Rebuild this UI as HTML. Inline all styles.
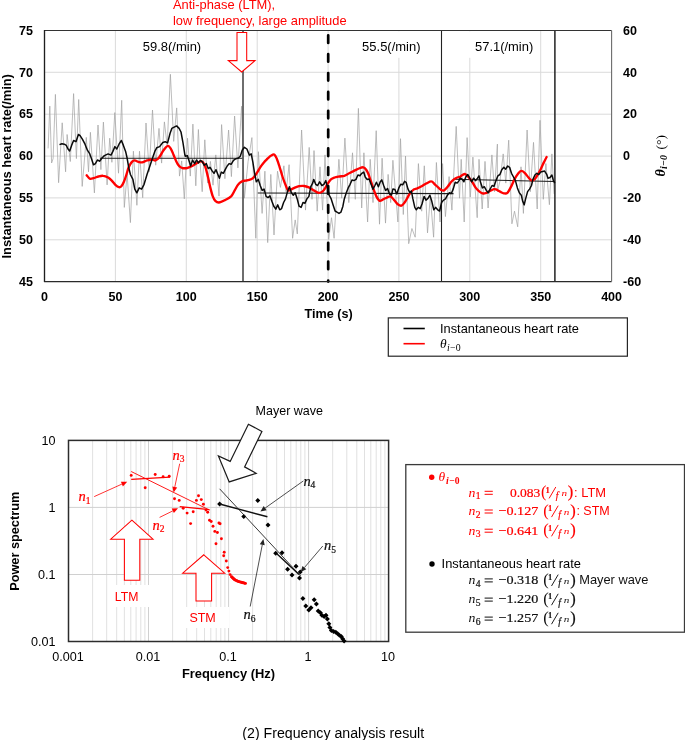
<!DOCTYPE html>
<html><head><meta charset="utf-8"><title>Frequency analysis result</title>
<style>
html,body{margin:0;padding:0;background:#fff;}
body{width:685px;height:740px;overflow:hidden;font-family:"Liberation Sans",sans-serif;}
svg{display:block;will-change:transform;}
text{font-family:"Liberation Sans",sans-serif;}
.b{font-weight:bold;}
.m{font-family:"Liberation Serif",serif;font-style:italic;}
.s{font-family:"Liberation Serif",serif;}
</style></head><body>
<svg width="685" height="740" viewBox="0 0 685 740">
<rect width="685" height="740" fill="#fff"/>

<g id="top">
<path d="M115.4,30.5 V281.6 M186.3,30.5 V281.6 M257.2,30.5 V281.6 M328.1,30.5 V281.6 M398.9,30.5 V281.6 M469.8,30.5 V281.6 M540.7,30.5 V281.6 M44.5,72.3 H611.6 M44.5,114.2 H611.6 M44.5,156.1 H611.6 M44.5,197.9 H611.6 M44.5,239.8 H611.6" stroke="#d8d8d8" stroke-width="0.95" fill="none"/>
<rect x="357" y="31.3" width="70" height="26.5" fill="#fff"/><rect x="466" y="31.3" width="71" height="26.5" fill="#fff"/>
<path d="M48.1,148.4 L49.8,106.1 L51.6,163.0 L53.1,158.6 L55.4,94.4 L58.6,182.7 L62.2,122.8 L65.6,171.8 L67.1,134.5 L70.3,161.5 L73.6,93.6 L76.4,158.6 L78.7,99.5 L82.2,186.4 L86.3,137.4 L88.5,171.8 L90.4,132.3 L94.4,192.9 L98.0,125.0 L100.9,169.6 L103.4,122.1 L107.1,184.9 L109.7,138.2 L111.9,162.3 L114.8,112.6 L118.5,173.2 L121.7,100.3 L124.3,207.4 L127.1,173.9 L130.4,222.6 L133.4,151.2 L136.9,205.3 L139.5,151.2 L142.7,197.7 L146.0,123.0 L149.2,171.7 L152.5,110.0 L155.7,165.2 L159.0,128.4 L161.6,163.1 L164.4,121.9 L167.2,145.8 L170.4,74.3 L173.7,141.4 L176.7,107.9 L179.5,176.1 L181.7,160.9 L184.3,198.8 L187.5,138.2 L190.3,176.1 L192.9,124.1 L195.8,185.8 L198.4,129.5 L200.0,161.4 L202.2,191.7 L204.8,139.8 L207.6,183.1 L210.4,161.4 L213.0,185.2 L215.8,154.9 L219.0,196.1 L221.6,124.6 L224.9,178.7 L228.6,130.0 L231.4,176.6 L234.6,116.0 L237.9,167.9 L241.6,106.2 L244.4,198.2 L248.1,161.4 L251.9,137.6 L255.8,238.3 L258.4,151.7 L262.1,213.4 L264.9,171.2 L267.7,242.6 L270.8,174.4 L274.0,235.0 L277.5,171.2 L280.4,187.4 L283.9,165.8 L286.1,191.7 L289.1,164.7 L292.6,238.3 L295.2,219.9 L297.3,233.9 L301.6,130.0 L305.5,210.1 L309.2,147.4 L312.0,199.3 L314.0,150.6 L317.2,211.2 L320.0,166.8 L322.6,210.1 L325.0,154.9 L328.7,239.4 L331.5,217.7 L334.1,238.3 L338.9,159.3 L341.7,198.2 L344.9,138.1 L348.8,202.6 L352.5,152.8 L355.3,199.3 L358.4,108.4 L361.7,208.0 L363.9,152.8 L367.6,222.0 L370.2,159.3 L373.0,202.6 L376.2,130.7 L379.5,224.2 L382.1,158.2 L385.5,223.1 L388.1,174.4 L390.7,202.6 L392.9,160.3 L397.9,222.0 L400.5,138.7 L403.3,214.5 L405.5,156.0 L408.7,243.7 L411.9,228.5 L415.2,237.2 L418.4,163.6 L421.7,211.2 L424.3,165.8 L427.5,232.9 L430.3,196.1 L433.6,237.2 L436.4,162.5 L440.0,222.0 L442.6,163.6 L445.4,216.6 L449.1,176.6 L451.9,210.1 L456.2,126.4 L459.5,198.2 L461.2,159.3 L464.2,222.0 L467.1,137.6 L470.3,197.1 L472.9,157.1 L477.2,217.7 L479.0,159.3 L482.2,209.0 L485.0,161.4 L488.1,208.0 L491.9,154.9 L494.5,191.7 L497.4,144.1 L497.4,191.7 L500.0,180.9 L503.2,153.9 L505.8,183.1 L508.7,140.2 L511.9,223.8 L514.5,211.2 L517.7,226.8 L521.0,166.8 L523.4,213.4 L527.1,130.0 L530.3,191.7 L533.5,142.4 L537.2,209.0 L540.0,120.3 L543.3,199.3 L545.9,163.6 L549.4,204.7 L551.9,153.9 L554.1,193.9" stroke="#a3a3a3" stroke-width="0.72" fill="none" stroke-linejoin="miter" stroke-miterlimit="10"/>
<path d="M100,158.2 H242.5 M257.8,192.9 L453.5,193.6 M453.5,179.2 L555,181.6" stroke="#1c1c1c" stroke-width="1.05" fill="none"/>
<path d="M243.0,30.5 V281.6" stroke="#4a4a4a" stroke-width="1.6"/>
<path d="M441.5,30.5 V281.6" stroke="#222" stroke-width="1.1"/>
<path d="M554.9,30.5 V281.6" stroke="#222" stroke-width="1.5"/>
<path d="M86.7,175.3 C87.2,175.8 88.7,178.2 89.8,178.7 C91.0,179.2 92.1,178.6 93.5,178.2 C94.9,177.8 96.7,176.9 98.4,176.5 C100.0,176.1 101.6,175.6 103.2,175.8 C104.8,175.9 106.7,176.7 108.1,177.5 C109.5,178.3 110.5,179.4 111.7,180.6 C112.9,181.8 114.2,183.7 115.4,184.8 C116.6,185.9 118.0,186.9 119.0,187.2 C120.0,187.4 120.6,187.1 121.4,186.2 C122.3,185.3 123.1,183.7 123.9,181.8 C124.7,180.0 125.5,177.5 126.3,175.0 C127.1,172.6 127.8,169.4 128.7,167.3 C129.7,165.1 130.9,163.0 131.9,161.9 C132.9,160.8 133.7,160.4 134.8,160.4 C135.9,160.4 137.3,161.6 138.5,161.9 C139.7,162.2 140.7,162.6 142.1,162.4 C143.5,162.1 145.4,160.9 147.0,160.4 C148.6,160.0 150.4,159.5 151.8,159.5 C153.3,159.5 154.3,160.8 155.5,160.4 C156.7,160.1 157.9,159.0 159.1,157.5 C160.4,156.0 161.6,153.2 162.8,151.4 C163.9,149.7 165.1,148.2 165.9,147.3 C166.8,146.4 167.4,145.7 168.1,145.9 C168.9,146.0 169.7,147.0 170.6,148.3 C171.4,149.6 172.3,151.7 173.2,153.9 C174.2,156.0 175.2,159.1 176.2,161.2 C177.1,163.2 178.1,164.9 179.1,166.0 C180.1,167.2 181.1,167.6 182.2,168.0 C183.4,168.3 185.0,168.2 185.9,168.2 C186.7,168.2 186.2,168.3 187.3,168.0 C188.3,167.6 190.5,166.8 192.2,166.0 C193.8,165.2 195.6,163.9 197.0,163.1 C198.4,162.3 199.7,161.5 200.7,161.4 C201.7,161.3 202.3,161.4 203.1,162.4 C203.9,163.4 204.7,164.8 205.5,167.3 C206.3,169.7 207.1,173.5 208.0,177.0 C208.8,180.4 209.6,184.7 210.4,187.9 C211.2,191.2 212.0,194.3 212.8,196.4 C213.6,198.6 214.2,199.8 215.3,200.8 C216.3,201.8 217.3,202.6 218.9,202.5 C220.5,202.4 223.0,201.1 225.0,200.1 C227.0,199.1 229.4,198.0 231.1,196.4 C232.7,194.8 233.5,192.4 234.7,190.4 C235.9,188.3 237.1,185.8 238.4,184.3 C239.6,182.8 240.8,182.0 242.0,181.4 C243.2,180.7 244.4,180.9 245.6,180.6 C246.9,180.4 248.1,180.3 249.3,179.9 C250.5,179.5 251.7,179.3 252.9,178.2 C254.2,177.1 255.4,175.2 256.6,173.3 C257.8,171.5 259.0,169.1 260.2,167.3 C261.4,165.4 262.7,163.8 263.9,162.4 C265.1,161.0 266.3,159.9 267.5,158.7 C268.7,157.6 270.0,156.3 271.2,155.6 C272.3,154.9 273.4,154.1 274.3,154.6 C275.3,155.1 275.9,156.6 276.8,158.7 C277.7,160.9 278.7,164.2 279.7,167.3 C280.7,170.3 281.6,173.9 282.6,177.0 C283.6,180.0 284.8,183.3 285.8,185.5 C286.7,187.7 287.2,189.7 288.2,190.4 C289.2,191.0 290.6,189.6 291.8,189.1 C293.1,188.6 294.3,187.9 295.5,187.4 C296.7,186.9 297.7,186.5 299.1,186.2 C300.6,186.0 302.4,185.8 304.0,186.0 C305.6,186.2 307.2,186.7 308.9,187.4 C310.5,188.2 312.1,189.5 313.7,190.4 C315.3,191.2 317.1,192.6 318.6,192.8 C320.0,193.0 321.4,192.3 322.4,191.6 C323.5,190.9 324.1,189.9 324.9,188.6 C325.7,187.4 326.3,185.8 327.3,184.3 C328.3,182.7 329.7,180.5 330.9,179.4 C332.2,178.3 333.2,178.0 334.6,177.5 C336.0,177.0 337.8,176.8 339.5,176.5 C341.1,176.2 342.7,176.3 344.3,175.8 C345.9,175.2 347.6,174.1 349.2,173.3 C350.8,172.5 352.4,171.7 354.0,170.9 C355.7,170.1 357.4,169.1 358.9,168.5 C360.4,167.9 362.1,167.1 363.3,167.3 C364.5,167.5 365.3,168.5 366.2,169.7 C367.1,170.9 367.8,172.5 368.6,174.5 C369.4,176.6 370.2,179.4 371.1,181.8 C371.9,184.3 372.6,186.7 373.5,189.1 C374.4,191.6 375.4,194.5 376.4,196.4 C377.4,198.4 378.4,200.3 379.6,200.8 C380.7,201.3 382.0,199.9 383.2,199.3 C384.4,198.8 385.6,198.1 386.9,197.6 C388.1,197.2 389.3,196.0 390.5,196.4 C391.7,196.8 392.9,198.8 394.2,200.1 C395.4,201.4 396.6,203.3 397.8,204.2 C399.0,205.1 400.3,206.0 401.4,205.7 C402.6,205.4 403.6,203.8 404.6,202.5 C405.6,201.2 406.6,199.3 407.5,197.6 C408.5,196.0 409.4,194.1 410.4,192.8 C411.5,191.4 412.5,190.4 413.6,189.6 C414.7,188.9 415.8,189.0 417.3,188.4 C418.7,187.8 420.5,186.9 422.1,186.0 C423.7,185.1 425.4,183.8 427.0,183.1 C428.5,182.3 430.1,181.2 431.4,181.4 C432.6,181.5 433.2,182.8 434.3,183.8 C435.4,184.8 436.8,186.2 437.9,187.2 C439.1,188.2 440.1,189.3 441.1,189.9 C442.1,190.4 442.9,190.9 444.0,190.4 C445.1,189.8 446.4,188.1 447.6,186.7 C448.9,185.3 450.1,183.2 451.3,181.8 C452.5,180.5 453.7,179.5 454.9,178.7 C456.2,177.9 457.7,177.3 458.6,177.0 C459.4,176.7 459.4,177.3 460.0,177.0 C460.6,176.7 461.5,175.5 462.4,175.0 C463.3,174.5 464.3,173.7 465.3,174.1 C466.4,174.4 467.4,175.7 468.5,177.0 C469.6,178.3 470.9,180.0 472.2,181.8 C473.4,183.7 474.6,186.3 475.8,187.9 C477.0,189.5 478.2,190.6 479.5,191.6 C480.7,192.5 481.9,193.3 483.1,193.5 C484.3,193.7 485.5,193.2 486.7,192.8 C488.0,192.3 489.2,191.4 490.4,190.8 C491.6,190.2 493.0,189.3 494.0,189.1 C495.1,188.9 495.5,189.2 496.5,189.6 C497.5,190.0 498.9,191.0 500.1,191.6 C501.3,192.2 502.5,193.1 503.8,193.3 C505.0,193.5 506.2,193.9 507.4,192.8 C508.6,191.7 509.8,189.0 511.1,186.7 C512.3,184.4 513.5,181.2 514.7,178.9 C515.9,176.7 517.3,174.7 518.4,173.3 C519.4,172.0 520.3,171.0 521.3,170.9 C522.3,170.8 523.3,171.6 524.4,172.6 C525.6,173.6 526.9,175.6 528.1,177.0 C529.3,178.3 530.6,180.3 531.7,180.6 C532.9,180.9 533.9,179.9 534.9,178.9 C535.9,177.9 536.8,176.2 537.8,174.5 C538.8,172.9 539.7,171.2 540.7,169.2 C541.7,167.2 542.9,164.4 543.9,162.4 C544.9,160.4 546.1,157.9 546.6,157.0" stroke="#ff0000" stroke-width="2.35" fill="none" stroke-linecap="round" stroke-linejoin="round"/>
<path d="M59.5,144.6 L61.9,143.7 L64.3,144.2 L66.3,145.4 L68.0,149.0 L69.7,151.0 L71.6,145.4 L73.6,140.5 L76.0,141.7 L78.4,134.4 L80.1,135.6 L82.5,139.3 L85.0,144.2 L87.4,150.2 L89.8,153.9 L91.5,158.7 L93.5,164.8 L95.4,163.6 L97.4,160.0 L99.6,161.2 L102.0,158.0 L104.4,155.6 L108.1,153.9 L111.0,155.1 L112.9,151.4 L114.9,146.6 L116.8,149.0 L119.0,144.2 L121.4,140.5 L123.4,145.4 L125.6,151.4 L127.0,157.5 L128.7,167.3 L130.4,174.5 L132.9,179.4 L134.8,189.1 L136.8,192.8 L139.2,187.9 L141.6,189.1 L144.1,184.3 L147.0,174.5 L149.9,166.0 L152.3,158.7 L154.8,151.4 L156.7,147.8 L159.6,146.6 L162.8,142.5 L165.2,141.7 L167.6,142.9 L170.1,133.2 L171.8,128.4 L174.2,127.1 L176.6,125.9 L179.1,128.4 L181.0,132.0 L183.0,142.9 L184.9,155.1 L185.3,156.3 L187.3,155.6 L189.2,161.2 L190.7,166.0 L192.6,160.0 L194.6,163.6 L196.5,160.0 L198.5,162.9 L200.4,160.4 L202.4,161.9 L204.3,165.3 L206.3,163.6 L208.2,168.5 L210.1,167.3 L212.1,170.9 L214.0,173.3 L216.0,169.7 L217.9,174.5 L219.4,178.2 L221.3,172.1 L223.3,173.3 L225.2,169.7 L227.2,166.0 L229.1,163.6 L231.1,164.3 L233.5,160.4 L235.9,158.7 L238.4,158.0 L240.3,156.3 L242.2,150.2 L244.4,147.3 L246.9,149.0 L249.3,155.1 L251.2,153.9 L252.9,162.4 L254.4,172.1 L256.3,181.8 L258.3,179.4 L260.2,185.5 L262.2,190.4 L264.1,189.1 L266.1,196.4 L268.0,197.6 L270.0,195.9 L271.9,201.3 L273.8,206.2 L275.8,209.1 L277.7,204.9 L279.7,209.8 L281.6,208.6 L283.6,202.5 L285.5,198.9 L287.5,191.6 L289.4,186.7 L291.4,192.8 L293.3,195.2 L295.2,192.8 L297.2,198.9 L299.1,206.2 L301.1,207.4 L303.0,202.5 L305.0,203.2 L306.9,198.9 L308.9,196.4 L310.8,186.7 L312.7,183.1 L313.7,179.4 L315.7,184.3 L317.6,185.5 L319.6,181.8 L321.9,185.5 L323.9,184.3 L325.8,180.6 L327.3,186.7 L329.2,195.2 L331.2,198.9 L333.1,204.9 L335.1,211.0 L337.0,212.2 L339.0,213.4 L340.9,212.2 L342.9,206.2 L344.3,198.9 L346.3,192.8 L348.2,187.9 L350.1,184.3 L352.1,179.9 L354.0,180.6 L356.0,179.4 L357.9,175.0 L359.9,175.8 L361.8,173.3 L363.8,172.1 L365.2,177.0 L367.2,179.4 L369.1,178.9 L371.1,184.3 L373.0,189.1 L374.9,185.5 L376.4,182.3 L378.4,186.7 L380.3,181.8 L381.8,179.9 L383.7,185.5 L385.6,190.4 L387.6,188.6 L389.5,194.0 L391.5,195.2 L392.9,189.1 L394.9,189.6 L396.8,194.0 L398.8,187.9 L400.7,184.3 L402.7,184.8 L404.6,181.4 L406.1,182.3 L408.0,189.1 L410.0,192.8 L411.4,191.1 L412.9,198.9 L414.8,207.4 L416.3,209.8 L418.2,207.4 L420.2,208.6 L422.1,203.7 L424.1,196.4 L426.0,200.1 L428.0,198.4 L429.9,195.2 L431.8,201.3 L433.8,209.8 L435.7,207.4 L437.7,209.8 L439.6,211.0 L441.6,202.5 L443.5,200.1 L445.5,198.9 L447.4,195.2 L449.3,192.8 L451.3,193.5 L453.2,189.1 L455.2,182.3 L457.1,183.1 L459.1,180.6 L460.0,178.2 L461.9,178.9 L463.9,181.8 L465.8,177.0 L467.8,174.5 L469.7,178.2 L471.7,181.8 L473.6,178.2 L475.6,180.6 L477.5,178.2 L479.0,175.8 L480.4,181.8 L482.4,187.9 L484.3,186.7 L486.3,190.4 L488.2,192.8 L490.1,189.1 L492.1,185.5 L494.0,186.2 L496.0,180.6 L497.9,175.8 L499.9,174.5 L501.8,169.7 L503.8,167.3 L505.7,169.2 L507.7,166.0 L509.6,167.3 L511.5,173.3 L513.5,177.0 L515.4,180.6 L517.4,187.9 L519.3,192.8 L521.3,195.2 L522.7,201.3 L524.2,204.9 L525.6,198.9 L527.6,191.6 L529.5,189.1 L531.5,185.5 L532.9,179.4 L534.9,175.0 L536.8,173.3 L538.8,174.5 L540.7,172.1 L542.7,171.6 L544.6,171.1 L546.6,174.1 L548.0,178.2 L550.0,177.5 L551.9,175.0 L553.4,180.6 L554.8,183.1" stroke="#0a0a0a" stroke-width="1.5" fill="none" stroke-linejoin="round"/>
<path d="M328.2,35.3 V281.6" stroke="#000" stroke-width="2.7" stroke-dasharray="7.6,11.26" stroke-linecap="round"/>
<path d="M44.5,30.5 H611.6" stroke="#333" stroke-width="1.15" fill="none"/>
<path d="M44.5,30.0 V282.1" stroke="#1e1e1e" stroke-width="1.35" fill="none"/>
<path d="M44.5,281.6 H611.6" stroke="#2a2a2a" stroke-width="1.2" fill="none"/>
<path d="M611.6,30.5 V281.6" stroke="#6a6a6a" stroke-width="1.1" fill="none"/>
<path d="M237,32.4 H246.7 V60.6 H255 L241.7,72 L228.3,60.6 H237 Z" fill="#fff" stroke="#ff0000" stroke-width="1.05" stroke-linejoin="miter"/>
<text class="b" transform="translate(33,285.8) scale(0.95,1)" font-size="13.2" text-anchor="end">45</text>
<text class="b" transform="translate(33,244.0) scale(0.95,1)" font-size="13.2" text-anchor="end">50</text>
<text class="b" transform="translate(33,202.1) scale(0.95,1)" font-size="13.2" text-anchor="end">55</text>
<text class="b" transform="translate(33,160.2) scale(0.95,1)" font-size="13.2" text-anchor="end">60</text>
<text class="b" transform="translate(33,118.4) scale(0.95,1)" font-size="13.2" text-anchor="end">65</text>
<text class="b" transform="translate(33,76.5) scale(0.95,1)" font-size="13.2" text-anchor="end">70</text>
<text class="b" transform="translate(33,34.7) scale(0.95,1)" font-size="13.2" text-anchor="end">75</text>
<text class="b" transform="translate(623,285.8) scale(0.95,1)" font-size="13.2">-60</text>
<text class="b" transform="translate(623,244.0) scale(0.95,1)" font-size="13.2">-40</text>
<text class="b" transform="translate(623,202.1) scale(0.95,1)" font-size="13.2">-20</text>
<text class="b" transform="translate(623,160.2) scale(0.95,1)" font-size="13.2">0</text>
<text class="b" transform="translate(623,118.4) scale(0.95,1)" font-size="13.2">20</text>
<text class="b" transform="translate(623,76.5) scale(0.95,1)" font-size="13.2">40</text>
<text class="b" transform="translate(623,34.7) scale(0.95,1)" font-size="13.2">60</text>
<text class="b" transform="translate(44.5,300.8) scale(0.95,1)" font-size="13.2" text-anchor="middle">0</text>
<text class="b" transform="translate(115.4,300.8) scale(0.95,1)" font-size="13.2" text-anchor="middle">50</text>
<text class="b" transform="translate(186.3,300.8) scale(0.95,1)" font-size="13.2" text-anchor="middle">100</text>
<text class="b" transform="translate(257.2,300.8) scale(0.95,1)" font-size="13.2" text-anchor="middle">150</text>
<text class="b" transform="translate(328.1,300.8) scale(0.95,1)" font-size="13.2" text-anchor="middle">200</text>
<text class="b" transform="translate(398.9,300.8) scale(0.95,1)" font-size="13.2" text-anchor="middle">250</text>
<text class="b" transform="translate(469.8,300.8) scale(0.95,1)" font-size="13.2" text-anchor="middle">300</text>
<text class="b" transform="translate(540.7,300.8) scale(0.95,1)" font-size="13.2" text-anchor="middle">350</text>
<text class="b" transform="translate(611.6,300.8) scale(0.95,1)" font-size="13.2" text-anchor="middle">400</text>
<text class="b" x="328.6" y="317.9" font-size="12.6" text-anchor="middle" textLength="48.2" lengthAdjust="spacingAndGlyphs">Time (s)</text>
<text class="b" transform="translate(10.9,166.3) rotate(-90)" font-size="12.9" text-anchor="middle" textLength="184.4" lengthAdjust="spacingAndGlyphs">Instantaneous heart rate(/min)</text>
<g transform="translate(664.5,176.5) rotate(-90)"><text class="m b" x="0" y="0" font-size="14">θ</text><text class="m b" x="7.6" y="2.8" font-size="10">i−0</text><text class="s" x="27" y="0" font-size="13.5">(°)</text></g>
<text x="142.8" y="51.1" font-size="13" textLength="58.4" lengthAdjust="spacingAndGlyphs">59.8(/min)</text>
<text x="362.1" y="51.1" font-size="13" textLength="58.4" lengthAdjust="spacingAndGlyphs">55.5(/min)</text>
<text x="475" y="51.1" font-size="13" textLength="58.2" lengthAdjust="spacingAndGlyphs">57.1(/min)</text>
<text x="173" y="9" font-size="13" fill="#ff0000" textLength="102.2" lengthAdjust="spacingAndGlyphs">Anti-phase (LTM),</text>
<text x="173" y="24.6" font-size="13" fill="#ff0000" textLength="173.6" lengthAdjust="spacingAndGlyphs">low frequency, large amplitude</text>
<rect x="388.3" y="317.9" width="239.1" height="38.3" fill="#fff" stroke="#262626" stroke-width="1.2"/>
<path d="M403.5,328.5 H424.8" stroke="#000" stroke-width="1.6"/>
<path d="M403.5,343.7 H424.8" stroke="#ff0000" stroke-width="1.6"/>
<text x="440" y="333" font-size="13" textLength="139" lengthAdjust="spacingAndGlyphs">Instantaneous heart rate</text>
<text class="m" x="440" y="347.5" font-size="13.5">θ</text><text class="m" x="447" y="350.6" font-size="9.8">i</text><text class="s" x="450" y="350.6" font-size="9.8" letter-spacing="0.3">−0</text>
</g>
<g id="bot">
<path d="M92.6,440.4 V641.5 M106.7,440.4 V641.5 M116.7,440.4 V641.5 M124.4,440.4 V641.5 M130.8,440.4 V641.5 M136.1,440.4 V641.5 M140.8,440.4 V641.5 M144.9,440.4 V641.5 M172.6,440.4 V641.5 M186.7,440.4 V641.5 M196.7,440.4 V641.5 M204.5,440.4 V641.5 M210.8,440.4 V641.5 M216.2,440.4 V641.5 M220.8,440.4 V641.5 M224.9,440.4 V641.5 M252.6,440.4 V641.5 M266.7,440.4 V641.5 M276.7,440.4 V641.5 M284.5,440.4 V641.5 M290.8,440.4 V641.5 M296.2,440.4 V641.5 M300.8,440.4 V641.5 M304.9,440.4 V641.5 M332.7,440.4 V641.5 M346.8,440.4 V641.5 M356.8,440.4 V641.5 M364.5,440.4 V641.5 M370.8,440.4 V641.5 M376.2,440.4 V641.5 M380.8,440.4 V641.5 M384.9,440.4 V641.5" stroke="#dedede" stroke-width="0.9" fill="none"/>
<path d="M148.5,440.4 V641.5 M228.6,440.4 V641.5 M308.6,440.4 V641.5 M68.5,507.4 H388.6 M68.5,574.5 H388.6" stroke="#d0d0d0" stroke-width="1" fill="none"/>
<rect x="113" y="585" width="37" height="22" fill="#fff"/>
<rect x="184" y="607" width="45" height="21" fill="#fff"/>
<rect x="68.5" y="440.4" width="320.1" height="201.1" fill="none" stroke="#2c2c2c" stroke-width="1.5"/>
<circle cx="131.2" cy="475.4" r="1.45" fill="#ff0000"/>
<circle cx="145.2" cy="487.7" r="1.45" fill="#ff0000"/>
<circle cx="155.2" cy="474.5" r="1.45" fill="#ff0000"/>
<circle cx="163.1" cy="476.8" r="1.45" fill="#ff0000"/>
<circle cx="169.2" cy="476.3" r="1.45" fill="#ff0000"/>
<circle cx="174.5" cy="498.7" r="1.45" fill="#ff0000"/>
<circle cx="179.2" cy="500.4" r="1.45" fill="#ff0000"/>
<circle cx="183.2" cy="508.3" r="1.45" fill="#ff0000"/>
<circle cx="187.1" cy="513.1" r="1.45" fill="#ff0000"/>
<circle cx="190.6" cy="523.6" r="1.45" fill="#ff0000"/>
<circle cx="193.2" cy="511.8" r="1.45" fill="#ff0000"/>
<circle cx="196.4" cy="500.4" r="1.45" fill="#ff0000"/>
<circle cx="198.5" cy="495.7" r="1.45" fill="#ff0000"/>
<circle cx="201.3" cy="499.6" r="1.45" fill="#ff0000"/>
<circle cx="203.4" cy="504.3" r="1.45" fill="#ff0000"/>
<circle cx="206" cy="510.1" r="1.45" fill="#ff0000"/>
<circle cx="207.7" cy="512.2" r="1.45" fill="#ff0000"/>
<circle cx="209.5" cy="520.2" r="1.45" fill="#ff0000"/>
<circle cx="211.2" cy="521.5" r="1.45" fill="#ff0000"/>
<circle cx="213" cy="526.2" r="1.45" fill="#ff0000"/>
<circle cx="214.8" cy="531.4" r="1.45" fill="#ff0000"/>
<circle cx="217.4" cy="532.5" r="1.45" fill="#ff0000"/>
<circle cx="216" cy="543.7" r="1.45" fill="#ff0000"/>
<circle cx="218.9" cy="523" r="1.45" fill="#ff0000"/>
<circle cx="220.1" cy="523.8" r="1.45" fill="#ff0000"/>
<circle cx="221.4" cy="538.7" r="1.45" fill="#ff0000"/>
<circle cx="224.2" cy="552.2" r="1.45" fill="#ff0000"/>
<circle cx="223.7" cy="555.7" r="1.45" fill="#ff0000"/>
<circle cx="226.3" cy="561" r="1.45" fill="#ff0000"/>
<circle cx="227.7" cy="567.6" r="1.45" fill="#ff0000"/>
<circle cx="228.9" cy="571.1" r="1.45" fill="#ff0000"/>
<circle cx="230.1" cy="574.6" r="1.45" fill="#ff0000"/>
<circle cx="231.5" cy="576.7" r="1.45" fill="#ff0000"/>
<circle cx="232.1" cy="577.3" r="1.45" fill="#ff0000"/>
<circle cx="232.7" cy="577.9" r="1.45" fill="#ff0000"/>
<circle cx="233.3" cy="578.5" r="1.45" fill="#ff0000"/>
<circle cx="233.9" cy="579.0" r="1.45" fill="#ff0000"/>
<circle cx="234.4" cy="579.4" r="1.45" fill="#ff0000"/>
<circle cx="235.0" cy="579.9" r="1.45" fill="#ff0000"/>
<circle cx="235.9" cy="580.4" r="1.45" fill="#ff0000"/>
<circle cx="236.8" cy="580.8" r="1.45" fill="#ff0000"/>
<circle cx="237.7" cy="581.3" r="1.45" fill="#ff0000"/>
<circle cx="238.6" cy="581.6" r="1.45" fill="#ff0000"/>
<circle cx="239.4" cy="581.8" r="1.45" fill="#ff0000"/>
<circle cx="240.3" cy="582.1" r="1.45" fill="#ff0000"/>
<circle cx="241.2" cy="582.3" r="1.45" fill="#ff0000"/>
<circle cx="242.0" cy="582.5" r="1.45" fill="#ff0000"/>
<circle cx="242.9" cy="582.7" r="1.45" fill="#ff0000"/>
<circle cx="243.8" cy="582.9" r="1.45" fill="#ff0000"/>
<circle cx="244.6" cy="583.2" r="1.45" fill="#ff0000"/>
<circle cx="245.5" cy="583.4" r="1.45" fill="#ff0000"/>
<path d="M131.2,479.4 L170.1,477.1 M179.7,506.6 L209.5,509.6" stroke="#ff0000" stroke-width="1.3" fill="none"/>
<path d="M131.2,471.5 L209.5,510.1" stroke="#ff0000" stroke-width="0.9" fill="none"/>
<path d="M94.2,496.6 L121.9,484.1" stroke="#ff0000" stroke-width="0.8" fill="none"/><path d="M127.2,481.7 L122.9,486.4 L120.9,481.8 Z" fill="#ff0000"/>
<path d="M179.7,463.7 L174.8,486.9" stroke="#ff0000" stroke-width="0.8" fill="none"/><path d="M173.6,492.6 L172.4,486.4 L177.2,487.4 Z" fill="#ff0000"/>
<path d="M159.6,517.4 L172.8,510.9" stroke="#ff0000" stroke-width="0.8" fill="none"/><path d="M178.0,508.3 L173.9,513.1 L171.7,508.6 Z" fill="#ff0000"/>
<path d="M131.9,520.2 L153,539.2 H139.8 V580.2 H124.4 V539.2 H110.7 Z" fill="#fff" stroke="#ff0000" stroke-width="1.05"/>
<path d="M203.8,554.8 L224.7,573.2 H211.6 V601 H196 V573.2 H182.7 Z" fill="#fff" stroke="#ff0000" stroke-width="1.05"/>
<text x="114.8" y="601.4" font-size="13" fill="#ff0000" textLength="23.6" lengthAdjust="spacingAndGlyphs">LTM</text>
<text x="189.4" y="621.6" font-size="13" fill="#ff0000" textLength="26.4" lengthAdjust="spacingAndGlyphs">STM</text>
<text class="m" x="78.6" y="501.4" font-size="14.5" fill="#ff0000" stroke="#ff0000" stroke-width="0.22">n</text><text class="s" x="85.8" y="504.0" font-size="9.5" fill="#ff0000" stroke="#ff0000" stroke-width="0.22">1</text>
<text class="m" x="172.5" y="459.5" font-size="14.5" fill="#ff0000" stroke="#ff0000" stroke-width="0.22">n</text><text class="s" x="179.7" y="462.1" font-size="9.5" fill="#ff0000" stroke="#ff0000" stroke-width="0.22">3</text>
<text class="m" x="152.5" y="529.5" font-size="14.5" fill="#ff0000" stroke="#ff0000" stroke-width="0.22">n</text><text class="s" x="159.7" y="532.1" font-size="9.5" fill="#ff0000" stroke="#ff0000" stroke-width="0.22">2</text>
<path d="M219.6,501.5 l2.5,2.5 l-2.5,2.5 l-2.5,-2.5 Z M257.8,498.0 l2.5,2.5 l-2.5,2.5 l-2.5,-2.5 Z M243.8,513.9 l2.5,2.5 l-2.5,2.5 l-2.5,-2.5 Z M268.0,522.5 l2.5,2.5 l-2.5,2.5 l-2.5,-2.5 Z M275.7,550.7 l2.5,2.5 l-2.5,2.5 l-2.5,-2.5 Z M282.0,550.2 l2.5,2.5 l-2.5,2.5 l-2.5,-2.5 Z M287.6,566.8 l2.5,2.5 l-2.5,2.5 l-2.5,-2.5 Z M296.0,563.7 l2.5,2.5 l-2.5,2.5 l-2.5,-2.5 Z M292.0,572.5 l2.5,2.5 l-2.5,2.5 l-2.5,-2.5 Z M300.2,569.5 l2.5,2.5 l-2.5,2.5 l-2.5,-2.5 Z M299.5,575.6 l2.5,2.5 l-2.5,2.5 l-2.5,-2.5 Z M302.9,596.0 l2.5,2.5 l-2.5,2.5 l-2.5,-2.5 Z M305.8,603.5 l2.5,2.5 l-2.5,2.5 l-2.5,-2.5 Z M308.8,607.5 l2.5,2.5 l-2.5,2.5 l-2.5,-2.5 Z M311.0,605.2 l2.5,2.5 l-2.5,2.5 l-2.5,-2.5 Z M314.2,597.2 l2.5,2.5 l-2.5,2.5 l-2.5,-2.5 Z M316.4,601.6 l2.5,2.5 l-2.5,2.5 l-2.5,-2.5 Z M318.2,608.5 l2.5,2.5 l-2.5,2.5 l-2.5,-2.5 Z M320.4,610.3 l2.5,2.5 l-2.5,2.5 l-2.5,-2.5 Z M321.9,612.8 l2.5,2.5 l-2.5,2.5 l-2.5,-2.5 Z M324.1,614.0 l2.5,2.5 l-2.5,2.5 l-2.5,-2.5 Z M326.0,612.8 l2.5,2.5 l-2.5,2.5 l-2.5,-2.5 Z M327.4,616.6 l2.5,2.5 l-2.5,2.5 l-2.5,-2.5 Z M328.8,621.3 l2.5,2.5 l-2.5,2.5 l-2.5,-2.5 Z M329.9,624.9 l2.5,2.5 l-2.5,2.5 l-2.5,-2.5 Z M331.4,627.9 l2.5,2.5 l-2.5,2.5 l-2.5,-2.5 Z M333.6,628.9 l2.5,2.5 l-2.5,2.5 l-2.5,-2.5 Z M335.8,629.8 l2.5,2.5 l-2.5,2.5 l-2.5,-2.5 Z M337.7,631.2 l2.5,2.5 l-2.5,2.5 l-2.5,-2.5 Z M339.4,632.7 l2.5,2.5 l-2.5,2.5 l-2.5,-2.5 Z M341.3,634.1 l2.5,2.5 l-2.5,2.5 l-2.5,-2.5 Z M342.6,636.2 l2.5,2.5 l-2.5,2.5 l-2.5,-2.5 Z M344.1,638.5 l2.5,2.5 l-2.5,2.5 l-2.5,-2.5 Z" fill="#000"/>
<path d="M219.6,504 L267.4,516.8 M277.1,553.9 L299,574.6" stroke="#111" stroke-width="1.4" fill="none"/>
<path d="M219.6,488.8 L300.7,576" stroke="#222" stroke-width="0.9" fill="none"/>
<path d="M303.4,480.9 L265.1,508.1" stroke="#222" stroke-width="0.8" fill="none"/><path d="M260.4,511.5 L263.7,506.1 L266.6,510.2 Z" fill="#222"/>
<path d="M250.2,606.5 L262.3,544.7" stroke="#222" stroke-width="0.8" fill="none"/><path d="M263.4,539.0 L264.7,545.2 L259.8,544.2 Z" fill="#222"/>
<path d="M322.8,546.0 L304.4,567.6" stroke="#222" stroke-width="0.8" fill="none"/><path d="M300.6,572.0 L302.5,566.0 L306.3,569.2 Z" fill="#222"/>
<text class="m" x="303.4" y="485.8" font-size="14.5" fill="#111" stroke="#111" stroke-width="0.22">n</text><text class="s" x="310.59999999999997" y="488.40000000000003" font-size="9.5" fill="#111" stroke="#111" stroke-width="0.22">4</text>
<text class="m" x="324" y="550" font-size="14.5" fill="#111" stroke="#111" stroke-width="0.22">n</text><text class="s" x="331.2" y="552.6" font-size="9.5" fill="#111" stroke="#111" stroke-width="0.22">5</text>
<text class="m" x="243.6" y="619.3" font-size="14.5" fill="#111" stroke="#111" stroke-width="0.22">n</text><text class="s" x="250.79999999999998" y="621.9" font-size="9.5" fill="#111" stroke="#111" stroke-width="0.22">6</text>
<path d="M248.4,424.2 L261.9,431.4 L244.6,466.9 L256.2,473.3 L229.2,481.9 L218.4,455.9 L230.2,461.4 Z" fill="#fff" stroke="#1a1a1a" stroke-width="1.2" stroke-linejoin="miter"/>
<text x="255.6" y="415.3" font-size="13" textLength="67.4" lengthAdjust="spacingAndGlyphs">Mayer wave</text>
<text x="55.6" y="444.9" font-size="12.6" text-anchor="end">10</text>
<text x="55.6" y="511.9" font-size="12.6" text-anchor="end">1</text>
<text x="55.6" y="579.0" font-size="12.6" text-anchor="end">0.1</text>
<text x="55.6" y="646.0" font-size="12.6" text-anchor="end">0.01</text>
<text x="67.9" y="661.4" font-size="12.6" text-anchor="middle">0.001</text>
<text x="147.9" y="661.4" font-size="12.6" text-anchor="middle">0.01</text>
<text x="228.0" y="661.4" font-size="12.6" text-anchor="middle">0.1</text>
<text x="308.0" y="661.4" font-size="12.6" text-anchor="middle">1</text>
<text x="388.0" y="661.4" font-size="12.6" text-anchor="middle">10</text>
<text class="b" x="181.9" y="678.1" font-size="13" textLength="93.2" lengthAdjust="spacingAndGlyphs">Frequency (Hz)</text>
<text class="b" transform="translate(18.9,541.3) rotate(-90)" font-size="13" text-anchor="middle" textLength="99.1" lengthAdjust="spacingAndGlyphs">Power spectrum</text>
<rect x="405.8" y="464.6" width="278.7" height="167.6" fill="none" stroke="#3a3a3a" stroke-width="1.3"/>
<circle cx="431.7" cy="477.3" r="2.7" fill="#ff0000"/>
<text class="m" x="438.6" y="481" font-size="13.5" fill="#ff0000">θ</text><text class="m b" x="446" y="483.8" font-size="9.8" fill="#ff0000">i</text><text class="s b" x="449.2" y="483.8" font-size="9.6" fill="#ff0000" letter-spacing="0.2">−0</text>
<text class="m" x="468.4" y="496.6" font-size="13.5" fill="#ff0000" textLength="6.9" lengthAdjust="spacingAndGlyphs">n</text><text class="s" x="475.8" y="499.40000000000003" font-size="9.6" fill="#ff0000" stroke="#ff0000" stroke-width="0.22">1</text><path d="M484.6,491.3 h8.2 M484.6,494.3 h8.2" stroke="#ff0000" stroke-width="1" fill="none"/><text class="s" x="509.9" y="496.6" font-size="13.5" fill="#ff0000" stroke="#ff0000" stroke-width="0.22" textLength="30.4" lengthAdjust="spacingAndGlyphs">0.083</text><text class="s" x="540.9000000000001" y="497.20000000000005" font-size="16.5" fill="#ff0000" transform="translate(0,0)">(</text><text class="s b" x="545.8000000000001" y="492.6" font-size="7.6" fill="#ff0000" stroke="#ff0000" stroke-width="0.22">1</text><path d="M549.1,498.40000000000003 L555.8000000000001,487.0" stroke="#ff0000" stroke-width="0.95" fill="none"/><text class="m" x="555.8000000000001" y="498.8" font-size="9.5" fill="#ff0000" stroke="#ff0000" stroke-width="0.22">f</text><text class="m" x="561.4000000000001" y="496.40000000000003" font-size="9.2" fill="#ff0000" textLength="5.6" lengthAdjust="spacingAndGlyphs">n</text><text class="s" x="567.8000000000001" y="497.20000000000005" font-size="16.5" fill="#ff0000" stroke="#ff0000" stroke-width="0.22">)</text><text x="574" y="496.6" font-size="12.2" fill="#ff0000" textLength="32" lengthAdjust="spacingAndGlyphs">: LTM</text>
<text class="m" x="468.4" y="515.3" font-size="13.5" fill="#ff0000" textLength="6.9" lengthAdjust="spacingAndGlyphs">n</text><text class="s" x="475.8" y="518.0999999999999" font-size="9.6" fill="#ff0000" stroke="#ff0000" stroke-width="0.22">2</text><path d="M484.6,509.99999999999994 h8.2 M484.6,513.0 h8.2" stroke="#ff0000" stroke-width="1" fill="none"/><text class="s" x="498.5" y="515.3" font-size="13.5" fill="#ff0000" stroke="#ff0000" stroke-width="0.22" textLength="39.8" lengthAdjust="spacingAndGlyphs">−0.127</text><text class="s" x="543.3000000000001" y="515.9" font-size="16.5" fill="#ff0000" transform="translate(0,0)">(</text><text class="s b" x="548.2" y="511.29999999999995" font-size="7.6" fill="#ff0000" stroke="#ff0000" stroke-width="0.22">1</text><path d="M551.5,517.0999999999999 L558.2,505.69999999999993" stroke="#ff0000" stroke-width="0.95" fill="none"/><text class="m" x="558.2" y="517.5" font-size="9.5" fill="#ff0000" stroke="#ff0000" stroke-width="0.22">f</text><text class="m" x="563.8000000000001" y="515.0999999999999" font-size="9.2" fill="#ff0000" textLength="5.6" lengthAdjust="spacingAndGlyphs">n</text><text class="s" x="570.2" y="515.9" font-size="16.5" fill="#ff0000" stroke="#ff0000" stroke-width="0.22">)</text><text x="576.4" y="515.3" font-size="12.2" fill="#ff0000" textLength="33.4" lengthAdjust="spacingAndGlyphs">: STM</text>
<text class="m" x="468.4" y="534.5" font-size="13.5" fill="#ff0000" textLength="6.9" lengthAdjust="spacingAndGlyphs">n</text><text class="s" x="475.8" y="537.3" font-size="9.6" fill="#ff0000" stroke="#ff0000" stroke-width="0.22">3</text><path d="M484.6,529.2 h8.2 M484.6,532.2 h8.2" stroke="#ff0000" stroke-width="1" fill="none"/><text class="s" x="498.5" y="534.5" font-size="13.5" fill="#ff0000" stroke="#ff0000" stroke-width="0.22" textLength="39.8" lengthAdjust="spacingAndGlyphs">−0.641</text><text class="s" x="543.3000000000001" y="535.1" font-size="16.5" fill="#ff0000" transform="translate(0,0)">(</text><text class="s b" x="548.2" y="530.5" font-size="7.6" fill="#ff0000" stroke="#ff0000" stroke-width="0.22">1</text><path d="M551.5,536.3 L558.2,524.9" stroke="#ff0000" stroke-width="0.95" fill="none"/><text class="m" x="558.2" y="536.7" font-size="9.5" fill="#ff0000" stroke="#ff0000" stroke-width="0.22">f</text><text class="m" x="563.8000000000001" y="534.3" font-size="9.2" fill="#ff0000" textLength="5.6" lengthAdjust="spacingAndGlyphs">n</text><text class="s" x="570.2" y="535.1" font-size="16.5" fill="#ff0000" stroke="#ff0000" stroke-width="0.22">)</text>
<circle cx="432" cy="564" r="2.7" fill="#000"/>
<text x="441.6" y="568.3" font-size="12.6" textLength="139.4" lengthAdjust="spacingAndGlyphs">Instantaneous heart rate</text>
<text class="m" x="468.4" y="584.2" font-size="13.5" fill="#111" textLength="6.9" lengthAdjust="spacingAndGlyphs">n</text><text class="s" x="475.8" y="587.0" font-size="9.6" fill="#111" stroke="#111" stroke-width="0.22">4</text><path d="M484.6,578.9000000000001 h8.2 M484.6,581.9000000000001 h8.2" stroke="#111" stroke-width="1" fill="none"/><text class="s" x="498.5" y="584.2" font-size="13.5" fill="#111" stroke="#111" stroke-width="0.22" textLength="39.8" lengthAdjust="spacingAndGlyphs">−0.318</text><text class="s" x="543.3000000000001" y="584.8000000000001" font-size="16.5" fill="#111" transform="translate(0,0)">(</text><text class="s b" x="548.2" y="580.2" font-size="7.6" fill="#111" stroke="#111" stroke-width="0.22">1</text><path d="M551.5,586.0 L558.2,574.6" stroke="#111" stroke-width="0.95" fill="none"/><text class="m" x="558.2" y="586.4000000000001" font-size="9.5" fill="#111" stroke="#111" stroke-width="0.22">f</text><text class="m" x="563.8000000000001" y="584.0" font-size="9.2" fill="#111" textLength="5.6" lengthAdjust="spacingAndGlyphs">n</text><text class="s" x="570.2" y="584.8000000000001" font-size="16.5" fill="#111" stroke="#111" stroke-width="0.22">)</text><text x="579.2" y="584.2" font-size="12.2" fill="#111" textLength="69.2" lengthAdjust="spacingAndGlyphs">Mayer wave</text>
<text class="m" x="468.4" y="603.4" font-size="13.5" fill="#111" textLength="6.9" lengthAdjust="spacingAndGlyphs">n</text><text class="s" x="475.8" y="606.1999999999999" font-size="9.6" fill="#111" stroke="#111" stroke-width="0.22">5</text><path d="M484.6,598.1 h8.2 M484.6,601.1 h8.2" stroke="#111" stroke-width="1" fill="none"/><text class="s" x="498.5" y="603.4" font-size="13.5" fill="#111" stroke="#111" stroke-width="0.22" textLength="39.8" lengthAdjust="spacingAndGlyphs">−1.220</text><text class="s" x="543.3000000000001" y="604.0" font-size="16.5" fill="#111" transform="translate(0,0)">(</text><text class="s b" x="548.2" y="599.4" font-size="7.6" fill="#111" stroke="#111" stroke-width="0.22">1</text><path d="M551.5,605.1999999999999 L558.2,593.8" stroke="#111" stroke-width="0.95" fill="none"/><text class="m" x="558.2" y="605.6" font-size="9.5" fill="#111" stroke="#111" stroke-width="0.22">f</text><text class="m" x="563.8000000000001" y="603.1999999999999" font-size="9.2" fill="#111" textLength="5.6" lengthAdjust="spacingAndGlyphs">n</text><text class="s" x="570.2" y="604.0" font-size="16.5" fill="#111" stroke="#111" stroke-width="0.22">)</text>
<text class="m" x="468.4" y="622.4" font-size="13.5" fill="#111" textLength="6.9" lengthAdjust="spacingAndGlyphs">n</text><text class="s" x="475.8" y="625.1999999999999" font-size="9.6" fill="#111" stroke="#111" stroke-width="0.22">6</text><path d="M484.6,617.1 h8.2 M484.6,620.1 h8.2" stroke="#111" stroke-width="1" fill="none"/><text class="s" x="498.5" y="622.4" font-size="13.5" fill="#111" stroke="#111" stroke-width="0.22" textLength="39.8" lengthAdjust="spacingAndGlyphs">−1.257</text><text class="s" x="543.3000000000001" y="623.0" font-size="16.5" fill="#111" transform="translate(0,0)">(</text><text class="s b" x="548.2" y="618.4" font-size="7.6" fill="#111" stroke="#111" stroke-width="0.22">1</text><path d="M551.5,624.1999999999999 L558.2,612.8" stroke="#111" stroke-width="0.95" fill="none"/><text class="m" x="558.2" y="624.6" font-size="9.5" fill="#111" stroke="#111" stroke-width="0.22">f</text><text class="m" x="563.8000000000001" y="622.1999999999999" font-size="9.2" fill="#111" textLength="5.6" lengthAdjust="spacingAndGlyphs">n</text><text class="s" x="570.2" y="623.0" font-size="16.5" fill="#111" stroke="#111" stroke-width="0.22">)</text>
</g>
<text x="242.3" y="737.6" font-size="14" textLength="181.9" lengthAdjust="spacingAndGlyphs">(2) Frequency analysis result</text>
</svg></body></html>
